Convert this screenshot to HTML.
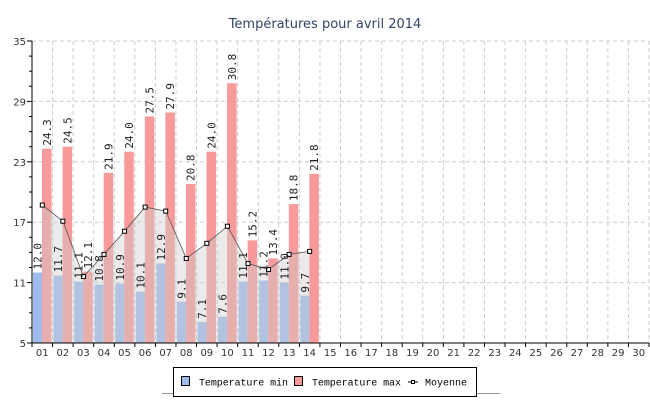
<!DOCTYPE html>
<html><head><meta charset="utf-8"><style>
html,body{margin:0;padding:0;background:#fff;}
svg{display:block;font-family:"DejaVu Sans Mono","Liberation Mono",monospace;}
</style></head><body>
<svg id="s" width="650" height="400" viewBox="0 0 650 400" xmlns="http://www.w3.org/2000/svg">
<rect width="650" height="400" fill="#fff"/>
<text x="325" y="28" text-anchor="middle" font-family="DejaVu Sans, Liberation Sans, sans-serif" font-size="13" fill="#334466">Températures pour avril 2014</text>
</svg>
<script>
const s=document.getElementById('s');
const NS='http://www.w3.org/2000/svg';
function el(t,a,txt){const e=document.createElementNS(NS,t);for(const k in a)e.setAttribute(k,a[k]);if(txt!==undefined)e.textContent=txt;s.appendChild(e);return e;}
const L=32,R=649,T=41,B=343;
const y=v=>B-(v-5)*(B-T)/30;
const w=(R-L)/30;
for(const v of [11,17,23,29,35]) el('line',{x1:L,x2:R,y1:y(v),y2:y(v),stroke:'#ccc','stroke-dasharray':'4,3'});
for(let i=1;i<=30;i++){const x=L+w*i;el('line',{x1:x,x2:x,y1:T,y2:B,stroke:'#ccc','stroke-dasharray':'4,3'});}
const mn=[12.0,11.7,11.1,10.8,10.9,10.1,12.9,9.1,7.1,7.6,11.1,11.2,11.0,9.7];
const mx=[24.3,24.5,12.1,21.9,24.0,27.5,27.9,20.8,24.0,30.8,15.2,13.4,18.8,21.8];
const mo=[18.7,17.1,11.6,13.8,16.1,18.5,18.1,13.4,14.9,16.6,12.9,12.3,13.8,14.1];
for(let i=0;i<14;i++){
 const x0=L+w*i;
 el('rect',{x:x0+1,y:y(mn[i]),width:9,height:B-y(mn[i]),fill:'#9ebcee'});
 el('rect',{x:x0+10,y:y(mx[i]),width:9.5,height:B-y(mx[i]),fill:'#f89a9a'});
}
let pts=[];for(let i=0;i<14;i++)pts.push((L+w*(i+0.5)).toFixed(1)+','+y(mo[i]).toFixed(1));
el('polygon',{points:(L+w*0.5)+','+B+' '+pts.join(' ')+' '+(L+w*13.5)+','+B,fill:'rgba(205,205,205,0.4)'});
el('polyline',{points:pts.join(' '),fill:'none',stroke:'#555','stroke-width':0.8});
for(let i=0;i<14;i++){const cx=L+w*(i+0.5),cy=y(mo[i]);el('rect',{x:cx-2,y:cy-2,width:4,height:4,fill:'#fff',stroke:'#000','stroke-width':1});}
for(let i=0;i<14;i++){
 const x0=L+w*i;
 let cx=x0+5.5+4,cy=y(mn[i])-3;
 el('text',{x:0,y:0,transform:`translate(${cx},${cy}) rotate(-90)`,'font-size':11,fill:'#222'},mn[i].toFixed(1));
 cx=x0+14.75+4;cy=y(mx[i])-3;
 el('text',{x:0,y:0,transform:`translate(${cx},${cy}) rotate(-90)`,'font-size':11,fill:'#222'},mx[i].toFixed(1));
}
el('line',{x1:L,x2:L,y1:T,y2:B,stroke:'#000'});
el('line',{x1:L,x2:R,y1:B,y2:B,stroke:'#000'});
for(let v=5;v<=35.01;v+=1.5){const major=Math.abs((v-5)%6)<0.01;el('line',{x1:major?L-5:L-3,x2:L,y1:y(v),y2:y(v),stroke:'#000'});
 if(major)el('text',{x:L-6,y:y(v)+4,'text-anchor':'end','font-size':10,fill:'#333','font-family':'DejaVu Sans, sans-serif'},String(v));}
for(let i=0;i<=30;i++){const x=L+w*i;el('line',{x1:x,x2:x,y1:B,y2:B+4,stroke:'#000'});}
for(let i=0;i<30;i++){el('text',{x:L+w*(i+0.5),y:B+13,'text-anchor':'middle','font-size':10,fill:'#333','font-family':'DejaVu Sans, sans-serif'},String(i+1).padStart(2,'0'));}
el('line',{x1:162,x2:500,y1:393.5,y2:393.5,stroke:'#999'});
el('rect',{x:173.5,y:367.5,width:303,height:29,fill:'#fff',stroke:'#000'});
const lf={'font-size':10,fill:'#000','font-family':'Liberation Mono, monospace'};
el('rect',{x:181.5,y:376.5,width:8,height:9,fill:'#9ebcee',stroke:'#000'});
el('text',Object.assign({x:199,y:385.5,textLength:89},lf),'Temperature min');
el('rect',{x:294.5,y:376.5,width:8,height:9,fill:'#f89a9a',stroke:'#000'});
el('text',Object.assign({x:312,y:385.5,textLength:89},lf),'Temperature max');
el('line',{x1:408,x2:418,y1:382,y2:382,stroke:'#000'});
el('rect',{x:411.5,y:380.5,width:3,height:3,fill:'#fff',stroke:'#000'});
el('text',Object.assign({x:425,y:385.5,textLength:42},lf),'Moyenne');
</script>
</body></html>
